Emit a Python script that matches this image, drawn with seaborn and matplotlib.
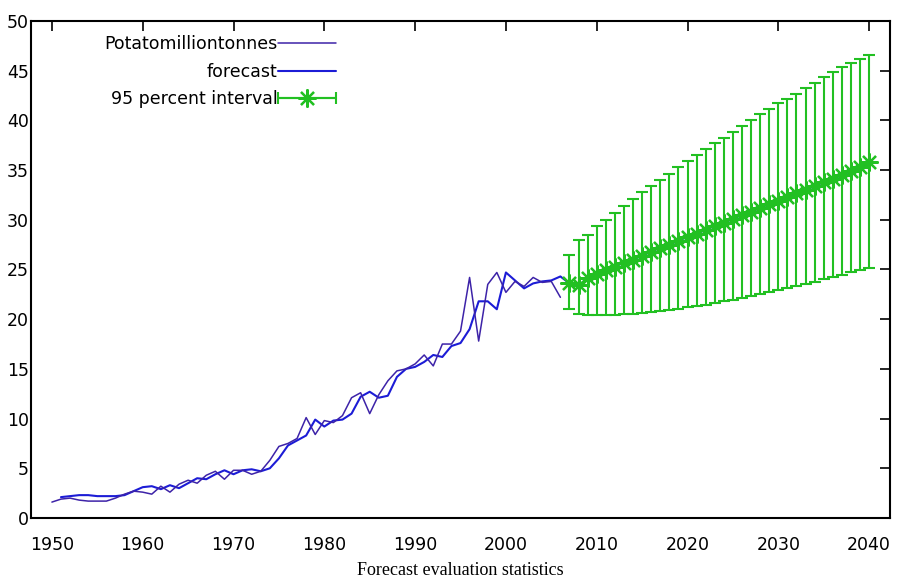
import numpy as np
import matplotlib
matplotlib.use('Agg')
import matplotlib.pyplot as plt
from matplotlib.lines import Line2D
from matplotlib.legend_handler import HandlerLine2D, HandlerTuple
import seaborn as sns
import pandas as pd

# observed series, 1950-2006
obs_years = list(range(1950, 2007))
potato = [1.6, 1.9, 2.0, 1.8, 1.7, 1.7, 1.7, 2.0, 2.4, 2.7,
          2.6, 2.4, 3.2, 2.6, 3.4, 3.8, 3.5, 4.3, 4.7, 3.9,
          4.8, 4.8, 4.4, 4.7, 5.8, 7.2, 7.5, 8.0, 10.1, 8.4,
          9.8, 9.6, 10.3, 12.1, 12.6, 10.5, 12.4, 13.8, 14.8, 15.0,
          15.5, 16.4, 15.3, 17.5, 17.5, 18.8, 24.2, 17.8, 23.5, 24.7,
          22.7, 23.8, 23.3, 24.2, 23.7, 23.8, 22.2]

# one-step-ahead fitted values, 1951-2006
fit_years = list(range(1951, 2007))
fitted = [2.1, 2.2, 2.3, 2.3, 2.2, 2.2, 2.2, 2.3, 2.7,
          3.1, 3.2, 2.9, 3.3, 3.0, 3.5, 4.0, 3.9, 4.4, 4.8,
          4.4, 4.8, 4.9, 4.7, 5.0, 6.0, 7.3, 7.8, 8.3, 9.9,
          9.2, 9.8, 9.9, 10.5, 12.2, 12.7, 12.1, 12.3, 14.2, 15.0,
          15.2, 15.7, 16.4, 16.2, 17.3, 17.6, 19.0, 21.8, 21.8, 21.0,
          24.7, 23.9, 23.1, 23.6, 23.8, 23.9, 24.3]

# forecast with 95 percent interval, 2007-2040
fc_years = list(range(2007, 2041))
fc_mean = [23.6, 23.4, 24.1, 24.5, 24.9, 25.3, 25.7, 26.0, 26.4, 26.8,
           27.2, 27.5, 27.9, 28.3, 28.6, 29.0, 29.4, 29.7, 30.1, 30.5,
           30.8, 31.2, 31.6, 31.9, 32.3, 32.7, 33.0, 33.4, 33.8, 34.1,
           34.5, 34.9, 35.3, 35.8]
fc_upper = [26.5, 28.0, 28.5, 29.4, 30.0, 30.7, 31.4, 32.1, 32.8, 33.4,
            34.0, 34.6, 35.3, 35.9, 36.5, 37.1, 37.7, 38.2, 38.8, 39.4,
            40.0, 40.6, 41.1, 41.7, 42.2, 42.7, 43.3, 43.8, 44.4, 44.9,
            45.4, 45.8, 46.2, 46.6]
fc_lower = [21.0, 20.5, 20.4, 20.4, 20.4, 20.4, 20.5, 20.5, 20.6, 20.7,
            20.8, 20.9, 21.0, 21.2, 21.3, 21.4, 21.6, 21.8, 21.9, 22.1,
            22.3, 22.5, 22.7, 22.9, 23.1, 23.3, 23.5, 23.7, 24.0, 24.2,
            24.4, 24.7, 24.9, 25.2]

def main():
    sns.set_theme(style='white')
    plt.rcParams['font.family'] = ['DejaVu Sans']
    plt.rcParams['text.color'] = 'black'

    obs = pd.DataFrame({'year': obs_years, 'value': potato})
    fit = pd.DataFrame({'year': fit_years + fc_years, 'value': fitted + fc_mean})
    fc = pd.DataFrame({'year': fc_years, 'mean': fc_mean,
                       'lo': fc_lower, 'hi': fc_upper})

    c_obs = '#3d23a8'
    c_fit = '#1c1cd6'
    c_int = '#22c022'
    star = (8, 2, 0)

    fig, ax = plt.subplots(figsize=(8.99, 5.83), dpi=100)
    fig.subplots_adjust(left=0.0345, right=0.990, bottom=0.1115, top=0.964)

    sns.lineplot(data=obs, x='year', y='value', ax=ax, color=c_obs, linewidth=1.1, zorder=3)
    sns.lineplot(data=fit, x='year', y='value', ax=ax, color=c_fit, linewidth=1.5, zorder=2)

    ax.errorbar(fc['year'], fc['mean'],
                yerr=[fc['mean'] - fc['lo'], fc['hi'] - fc['mean']],
                fmt='none', ecolor=c_int, elinewidth=1.5, capsize=4.5, capthick=1.5, zorder=4)
    sns.lineplot(data=fc, x='year', y='mean', ax=ax, color=c_int, linewidth=1.5,
                 marker=star, markersize=13, markeredgewidth=1.6,
                 markeredgecolor=c_int, zorder=5)

    ax.set_xlim(1947.7, 2042.3)
    ax.set_ylim(0, 50)
    ax.set_xticks(range(1950, 2041, 10))
    ax.set_yticks(range(0, 51, 5))
    ax.tick_params(axis='both', direction='in', length=7.5, width=1.2,
                   top=True, right=True, labelsize=12.5, colors='black')
    ax.tick_params(axis='x', pad=13)
    ax.tick_params(axis='y', pad=1.5)
    for sp in ax.spines.values():
        sp.set_color('black')
        sp.set_linewidth(1.5)

    ax.set_ylabel('')
    ax.set_xlabel('Forecast evaluation statistics', family='Liberation Serif',
                  fontsize=13, labelpad=6, color='black')

    # gnuplot style legend: text right aligned, sample on the right
    h_obs = Line2D([], [], color=c_obs, linewidth=1.1)
    h_fit = Line2D([], [], color=c_fit, linewidth=1.5)
    h_caps = Line2D([], [], color=c_int, linewidth=1.5, marker='|',
                    markersize=8, markeredgewidth=1.5)
    h_star = Line2D([], [], color=c_int, linewidth=1.5, marker=star,
                    markersize=13, markeredgewidth=1.6)
    leg = ax.legend([h_obs, h_fit, (h_caps, h_star)],
                    ['Potatomilliontonnes', 'forecast', '95 percent interval'],
                    handler_map={h_caps: HandlerLine2D(numpoints=2, marker_pad=0),
                                 tuple: HandlerTuple(ndivide=1)},
                    loc='upper left', bbox_to_anchor=(0.077, 0.985), frameon=False,
                    markerfirst=False, fontsize=12.5, handlelength=3.3,
                    handletextpad=0.05, labelspacing=0.55, borderaxespad=0)
    for t in leg.get_texts():
        t.set_color('black')

    fig.savefig('out.png', dpi=100)

if __name__ == '__main__':
    main()
